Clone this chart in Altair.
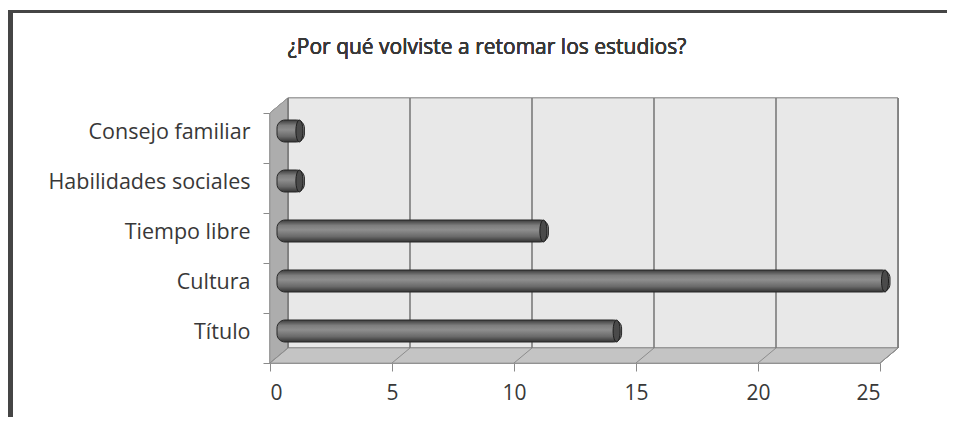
import altair as alt
import pandas as pd

# ---- data ----
categories = ["Consejo familiar", "Habilidades sociales", "Tiempo libre", "Cultura", "Título"]
values = [1, 1, 11, 25, 14]
x_ticks = [0, 5, 10, 15, 20, 25]
title_text = "¿Por qué volviste a retomar los estudios?"

# ---- layout / style constants ----
W, H = 610, 250          # plot area
DX, DY = 18, 15          # 3D depth of the back wall
BX, BY = 9, -7           # bars sit at mid depth
FONT = "Open Sans"
TXT = "#383838"

df = pd.DataFrame({"cat": categories, "value": values, "start": [0] * len(values)})
ticks_df = pd.DataFrame({"t": x_ticks})

x_scale = alt.Scale(domain=[0, 25], nice=False, zero=True)
x_axis = alt.Axis(values=x_ticks, labelFont=FONT, labelFontSize=21, labelColor=TXT,
                  labelFontWeight="normal",
                  tickSize=8, tickColor="#8a8a8a", domainColor="#8a8a8a",
                  labelPadding=11, grid=False, title=None)
y_axis = alt.Axis(labelFont=FONT, labelFontSize=21.5, labelColor=TXT, labelFontWeight="normal",
                  labelPadding=13, tickSize=7, tickColor="#8a8a8a",
                  domainColor="#8a8a8a", tickBand="extent",
                  labelOffset=-6, labelLimit=300)
y_enc = alt.Y("cat:N", sort=categories, title=None,
              scale=alt.Scale(paddingInner=0, paddingOuter=0), axis=y_axis)

# frame lines (page chrome)
frame_left = alt.Chart(df).mark_rule(color="#454545", strokeWidth=5).encode(
    x=alt.value(-259.5), y=alt.value(-103), y2=alt.value(320))
frame_top = alt.Chart(df).mark_rule(color="#454545", strokeWidth=3).encode(
    x=alt.value(-262), x2=alt.value(700), y=alt.value(-101.5))

# back wall
wall = alt.Chart(df).mark_rect(fill="#e8e8e8", stroke="#a0a0a0", strokeWidth=1).encode(
    x=alt.value(DX), x2=alt.value(W + DX),
    y=alt.value(-DY), y2=alt.value(H - DY))

# side wall & floor parallelograms (custom symbol paths in pixel units: size 4 -> scale 1)
side_path = f"M0,0 L{DX},{-DY} L{DX},{H - DY} L0,{H} Z"
floor_path = f"M0,0 L{W},0 L{W + DX},{-DY} L{DX},{-DY} Z"
side = alt.Chart(df).mark_point(shape=side_path, size=4, filled=True, fill="#adadad",
                                stroke="#959595", strokeWidth=0.8, opacity=1).encode(
    x=alt.value(0), y=alt.value(0))
floor = alt.Chart(df).mark_point(shape=floor_path, size=4, filled=True, fill="#c4c4c4",
                                 stroke="#959595", strokeWidth=0.8, opacity=1).encode(
    x=alt.value(0), y=alt.value(H))

# bars (cylinders) -- first x-encoded layer carries the axes
bar_grad = alt.Gradient(gradient="linear", x1=0, x2=0, y1=0, y2=1,
                        stops=[alt.GradientStop(color="#3c3c3c", offset=0),
                               alt.GradientStop(color="#7e7e7e", offset=0.25),
                               alt.GradientStop(color="#8e8e8e", offset=0.45),
                               alt.GradientStop(color="#6a6a6a", offset=0.75),
                               alt.GradientStop(color="#333333", offset=1)])
bars = alt.Chart(df).mark_bar(size=22, cornerRadius=8, color=bar_grad,
                              stroke="#262626", strokeWidth=1,
                              xOffset=BX - 2, x2Offset=BX + 1, yOffset=BY).encode(
    x=alt.X("start:Q", scale=x_scale, axis=x_axis),
    x2="value:Q",
    y=y_enc)

# back-wall gridlines
grid = alt.Chart(ticks_df).mark_rule(color="#7a7a7a", strokeWidth=1.6,
                                     xOffset=DX).encode(
    x=alt.X("t:Q", scale=x_scale, axis=x_axis),
    y=alt.value(-DY), y2=alt.value(H - DY))

# floor diagonals at ticks
diag = alt.Chart(ticks_df).mark_rule(color="#8c8c8c", strokeWidth=1,
                                     x2Offset=DX).encode(
    x=alt.X("t:Q", scale=x_scale, axis=x_axis), x2="t:Q",
    y=alt.value(H), y2=alt.value(H - DY))

ellipse = "M0,-1 A0.32,1 0 1,1 0,1 A0.32,1 0 1,1 0,-1 Z"
caps = alt.Chart(df).mark_point(shape=ellipse, size=480, filled=True,
                                fill="#4a4a4a", stroke="#1e1e1e", strokeWidth=1,
                                opacity=1, xOffset=BX - 4, yOffset=BY).encode(
    x=alt.X("value:Q", scale=x_scale, axis=x_axis),
    y=alt.Y("cat:N", sort=categories, axis=y_axis, title=None))

title = alt.Chart(df).mark_text(text=title_text, font=FONT, fontSize=21, fontWeight="normal",
                                color=TXT, align="center", baseline="middle").encode(
    x=alt.value(487 - 270), y=alt.value(48 - 113))

chart = alt.layer(wall, side, floor, grid, diag, bars, caps, frame_left, frame_top, title).properties(
    width=W, height=H,
    autosize="none",
    padding={"left": 262, "top": 105, "right": 67, "bottom": 54},
).configure_view(stroke=None).configure(background="white")

chart.save("out.html", embed_options={"renderer": "svg", "actions": False})
